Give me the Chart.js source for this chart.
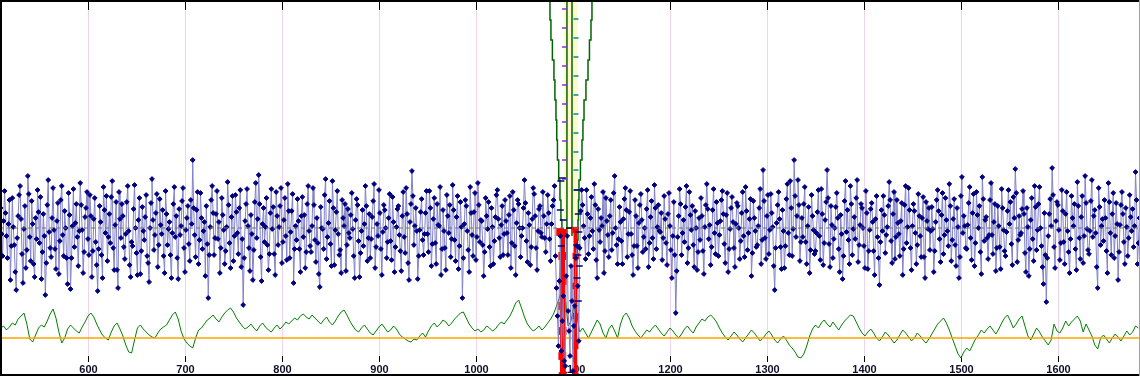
<!DOCTYPE html>
<html>
<head>
<meta charset="utf-8">
<title>Spectrum trace</title>
<script src="https://cdn.jsdelivr.net/npm/chart.js@4.4.1/dist/chart.umd.min.js"></script>
<style>
  html, body { margin: 0; padding: 0; background: #fff; }
  canvas { display: block; }
</style>
</head>
<body>
<canvas id="chart" width="1140" height="376"></canvas>
<script>
// AXIS RANGE (no y labels in the original, y is in "height above the bottom" units)
var X_MIN = 509.3;
var X_MAX = 1684.6;
var Y_MIN = 0;
var Y_MAX = 376;

var TICKS = [600, 700, 800, 900, 1000, 1100, 1200, 1300, 1400, 1500, 1600];

// blue trace, one sample per unit starting at 510
var BLUE_START = 510;
var BLUE_STEP = 1;
var blueValues = [
  168, 142, 120, 155, 185, 163, 140, 118, 152, 176, 96, 130, 178, 149, 131, 104, 86, 138, 160, 181, 190, 157, 122, 93, 147, 170, 108, 126, 200, 182, 139, 115, 175, 152, 112, 99, 158, 137, 186, 164,
  133, 179, 97, 124, 162, 140, 81, 113, 171, 196, 144, 128, 119, 158, 188, 146, 127, 107, 155, 173, 102, 135, 176, 190, 141, 120, 165, 148, 118, 92, 183, 161, 87, 118, 150, 187, 129, 153, 172, 139,
  110, 145, 193, 171, 146, 103, 124, 159, 168, 184, 137, 121, 181, 160, 99, 125, 157, 178, 134, 111, 85, 127, 170, 154, 121, 98, 189, 166, 143, 180, 115, 139, 162, 133, 179, 195, 128, 106, 151, 174,
  106, 88, 184, 157, 138, 172, 160, 129, 117, 142, 174, 190, 145, 111, 99, 134, 130, 167, 191, 148, 123, 101, 156, 178, 102, 125, 169, 145, 136, 159, 181, 120, 113, 94, 148, 173, 197, 156, 126, 141,
  163, 182, 109, 131, 177, 151, 142, 166, 120, 103, 185, 162, 131, 147, 154, 121, 98, 143, 172, 189, 139, 160, 118, 97, 167, 141, 150, 175, 188, 128, 104, 146, 158, 170, 132, 115, 176, 152, 216, 168,
  141, 119, 166, 184, 112, 136, 183, 158, 127, 145, 154, 100, 170, 132, 78, 121, 149, 176, 190, 163, 121, 138, 162, 185, 137, 154, 103, 128, 178, 161, 146, 112, 125, 149, 194, 171, 133, 108, 159, 180,
  115, 140, 181, 164, 143, 122, 168, 186, 109, 137, 71, 118, 155, 172, 187, 150, 128, 105, 161, 142, 96, 126, 174, 193, 138, 157, 201, 172, 119, 95, 152, 168, 134, 149, 178, 131, 106, 122, 163, 187,
  147, 169, 122, 101, 184, 160, 131, 149, 170, 188, 113, 134, 156, 178, 140, 116, 192, 165, 118, 144, 165, 182, 93, 127, 150, 136, 177, 155, 127, 104, 160, 179, 139, 161, 108, 124, 172, 190, 145, 130,
  124, 150, 188, 171, 136, 114, 158, 133, 102, 89, 169, 148, 147, 127, 181, 197, 117, 139, 153, 175, 132, 110, 195, 168, 111, 146, 164, 185, 142, 121, 126, 103, 176, 158, 150, 172, 105, 131, 167, 143,
  138, 161, 183, 147, 120, 98, 156, 177, 171, 135, 99, 123, 145, 166, 130, 152, 190, 170, 115, 138, 162, 118, 137, 159, 175, 192, 108, 129, 152, 140, 186, 163, 127, 101, 144, 171, 166, 148, 118, 134,
  158, 182, 135, 116, 179, 154, 104, 129, 149, 167, 170, 141, 125, 105, 160, 184, 139, 123, 188, 162, 113, 96, 154, 172, 205, 180, 131, 150, 168, 145, 97, 120, 146, 164, 177, 136, 121, 142, 163, 185,
  142, 124, 185, 168, 110, 132, 157, 178, 133, 112, 172, 151, 150, 189, 101, 127, 166, 145, 128, 106, 181, 160, 143, 171, 119, 137, 191, 166, 136, 115, 159, 180, 107, 130, 174, 149, 78, 118, 152, 176,
  170, 145, 126, 104, 189, 163, 141, 120, 164, 183, 116, 139, 193, 171, 134, 156, 155, 131, 100, 124, 178, 160, 147, 174, 129, 110, 168, 149, 112, 135, 159, 181, 186, 157, 138, 119, 151, 170, 121, 142,
  176, 155, 143, 121, 161, 180, 108, 133, 184, 166, 130, 101, 153, 176, 172, 148, 119, 140, 148, 168, 196, 173, 135, 114, 163, 151, 111, 129, 157, 188, 182, 160, 128, 106, 145, 167, 170, 143, 139, 184,
  160, 138, 124, 152, 181, 163, 137, 115, 152, 170, 176, 190, 120, 88, 60, 30, 95, 140, 25, 55, 80, 15, 10, 100, 140, 65, 45, 20, 110, 75, 5, 50, 70, 118, 130, 90, 35, 128, 165, 186,
  171, 150, 138, 117, 186, 162, 122, 140, 158, 179, 145, 127, 192, 171, 116, 98, 167, 146, 134, 158, 150, 184, 103, 125, 178, 155, 141, 119, 160, 176, 126, 143, 183, 200, 148, 131, 112, 137, 169, 154,
  135, 112, 157, 177, 188, 166, 119, 142, 164, 185, 142, 121, 101, 130, 176, 160, 130, 108, 153, 171, 182, 156, 124, 139, 148, 127, 167, 186, 109, 133, 159, 175, 138, 117, 191, 168, 127, 149, 171, 145,
  144, 163, 116, 138, 180, 157, 133, 111, 162, 183, 150, 126, 98, 140, 174, 121, 63, 105, 139, 160, 187, 172, 121, 143, 156, 134, 169, 190, 113, 128, 184, 161, 146, 170, 131, 109, 165, 148, 106, 124,
  158, 136, 178, 160, 125, 102, 149, 171, 192, 167, 137, 151, 111, 129, 166, 187, 143, 122, 174, 153, 120, 141, 155, 176, 185, 162, 132, 113, 161, 183, 104, 127, 147, 168, 179, 154, 128, 109, 152, 173,
  170, 148, 117, 135, 163, 184, 140, 119, 189, 165, 126, 143, 157, 177, 100, 123, 175, 158, 145, 129, 131, 150, 168, 187, 112, 136, 206, 175, 138, 117, 160, 181, 122, 146, 182, 163, 149, 110, 86, 128,
  153, 171, 184, 157, 129, 107, 166, 145, 108, 130, 177, 192, 143, 121, 195, 168, 120, 147, 216, 180, 139, 160, 196, 171, 115, 134, 158, 139, 172, 189, 134, 112, 150, 169, 103, 126, 181, 160, 146, 122,
  125, 143, 164, 186, 140, 116, 187, 162, 111, 133, 156, 174, 206, 178, 132, 109, 170, 151, 118, 137, 148, 169, 183, 158, 127, 104, 161, 142, 97, 120, 175, 195, 144, 166, 136, 112, 190, 172, 121, 147,
  159, 137, 178, 196, 114, 131, 151, 172, 168, 148, 130, 108, 185, 163, 107, 125, 146, 167, 173, 154, 125, 101, 157, 180, 139, 118, 91, 134, 166, 145, 180, 161, 123, 141, 149, 170, 194, 176, 135, 113,
  162, 184, 117, 139, 176, 153, 142, 120, 155, 173, 101, 127, 171, 190, 133, 149, 188, 166, 128, 106, 150, 172, 165, 143, 112, 131, 182, 160, 140, 119, 158, 179, 119, 98, 174, 155, 147, 168, 126, 145,
  169, 147, 104, 125, 154, 176, 186, 165, 137, 114, 161, 183, 122, 141, 178, 156, 145, 130, 192, 170, 115, 136, 157, 177, 131, 110, 168, 149, 98, 119, 180, 199, 143, 160, 150, 128, 127, 151, 173, 189,
  138, 116, 163, 182, 110, 133, 184, 161, 148, 170, 124, 102, 199, 177, 135, 156, 159, 138, 117, 141, 176, 193, 141, 122, 154, 172, 105, 128, 170, 150, 129, 107, 187, 168, 146, 125, 120, 144, 165, 186,
  152, 174, 132, 111, 179, 158, 207, 183, 114, 136, 160, 141, 143, 167, 185, 162, 123, 104, 168, 149, 100, 127, 156, 178, 137, 115, 190, 169, 126, 146, 172, 189, 148, 130, 109, 92, 163, 121, 74, 118,
  140, 162, 177, 150, 208, 181, 129, 108, 155, 174, 171, 146, 116, 133, 186, 165, 134, 112, 162, 184, 145, 124, 103, 137, 180, 158, 150, 172, 127, 106, 194, 170, 138, 117, 159, 180, 113, 140, 200, 173,
  147, 126, 122, 145, 175, 196, 139, 160, 166, 143, 109, 88, 188, 169, 131, 150, 157, 135, 176, 158, 125, 103, 193, 174, 143, 121, 162, 183, 118, 140, 173, 152, 96, 124, 151, 171, 184, 162, 134, 112,
  168, 149, 120, 138, 181, 159, 145, 167, 129, 150, 204, 176, 112, 133, 158
];

// green trace, one sample every 3 units starting at 510
var GREEN_START = 510;
var GREEN_STEP = 3;
var greenValues = [
  48, 50, 46, 49, 53, 51, 57, 60, 63, 52, 37, 34, 41, 48, 51, 49, 55, 62, 67, 58,
  44, 33, 38, 47, 51, 48, 45, 43, 49, 54, 60, 63, 59, 52, 46, 41, 38, 36, 44, 50,
  53, 47, 40, 31, 24, 23, 36, 48, 51, 47, 44, 41, 39, 38, 43, 47, 49, 51, 56, 61,
  64, 57, 45, 37, 33, 30, 28, 38, 46, 48, 52, 56, 58, 61, 57, 54, 59, 63, 66, 68,
  64, 58, 54, 50, 47, 49, 52, 48, 45, 50, 53, 49, 46, 44, 48, 51, 47, 50, 54, 52,
  55, 58, 56, 60, 62, 59, 57, 61, 58, 55, 52, 56, 59, 54, 51, 55, 60, 64, 66, 61,
  55, 50, 46, 44, 48, 51, 47, 43, 41, 45, 49, 52, 48, 44, 46, 50, 47, 42, 39, 37,
  35, 34, 37, 36, 40, 43, 39, 45, 50, 53, 49, 52, 56, 54, 50, 53, 57, 60, 63, 64,
  58, 52, 48, 45, 47, 44, 46, 50, 48, 45, 47, 51, 54, 52, 56, 60, 66, 73, 76, 68,
  59, 52, 48, 45, 47, 50, 46, 49, 53, 57, 62, 70, 78, 90, 80, 50, 55, 72, 60, 44,
  48, 43, 38, 44, 50, 56, 52, 43, 38, 47, 51, 45, 38, 52, 60, 63, 58, 50, 45, 41,
  38, 42, 46, 44, 48, 51, 47, 43, 40, 44, 48, 45, 41, 38, 42, 47, 50, 46, 43, 49,
  53, 57, 55, 59, 61, 58, 54, 48, 43, 39, 36, 40, 44, 41, 37, 34, 38, 42, 46, 43,
  39, 35, 38, 42, 45, 41, 36, 33, 37, 40, 36, 31, 28, 24, 19, 18, 22, 30, 40, 47,
  51, 48, 53, 56, 52, 49, 54, 50, 46, 51, 55, 58, 61, 60, 54, 48, 43, 40, 44, 47,
  43, 38, 35, 39, 44, 41, 37, 33, 36, 41, 46, 43, 39, 35, 38, 43, 40, 36, 33, 37,
  42, 47, 52, 55, 58, 53, 46, 38, 30, 22, 18, 24, 28, 25, 31, 37, 41, 46, 43, 47,
  50, 46, 42, 47, 53, 58, 61, 55, 48, 52, 57, 60, 50, 40, 36, 42, 48, 44, 39, 35,
  31, 36, 52, 45, 43, 48, 55, 50, 54, 57, 60, 55, 44, 52, 46, 40, 31, 27, 38, 41,
  37, 33, 38, 42, 39, 35, 40, 45, 41, 44, 50, 48
];

var ORANGE_LEVEL = 38;
var MEAN_LEVEL = 148;

// the narrow feature around 1090-1105
var bandX = [1090.7, 1105.2];
var bandBottom = 156;

var vLeftX = [1075.3, 1076.3, 1077.3, 1078.8, 1080.4, 1081.4, 1082.5, 1083.3, 1084.0, 1085.3, 1086.6, 1087.6, 1088.6, 1089.2, 1089.7];
var vLeftY = [376, 356, 336, 316, 296, 276, 256, 236, 216, 196, 176, 156, 136, 111, 86];
var vRightX = [1120.6, 1119.6, 1118.6, 1117.0, 1115.5, 1113.4, 1111.4, 1110.3, 1109.3, 1107.7, 1106.2, 1105.7, 1105.2, 1104.6, 1104.1];
var vRightY = [376, 356, 336, 316, 296, 276, 256, 236, 216, 196, 176, 156, 136, 116, 96];

var stemA = { x: 1093.8, top: 376, bottom: 116 };
var stemB = { x: 1099.0, top: 376, bottom: 140 };

var purpleX = 1091.3;
var purpleY = [367, 348, 329, 310, 291, 272, 254, 235, 216, 197];
var tealX = 1103.1;
var tealY = [357, 338, 319, 300, 281, 262, 243, 224, 206, 186];

var redLeftX = [1086.8, 1089.4, 1089.0, 1089.5, 1088.9, 1089.3, 1089.0, 1089.4];
var redLeftY = [144, 143, 120, 95, 70, 45, 20, 0];
var redRightX = [1102.5, 1102.8, 1102.3, 1102.7, 1102.4, 1102.6];
var redRightY = [146, 120, 90, 60, 30, 0];

var markX = [1089.0, 1087.5, 1087.0, 1090.0, 1104.5, 1105.5, 1106.0, 1104.0, 1105.0, 1106.5, 1104.2, 1088.0, 1105.5];
var markY = [198, 195, 166, 156, 186, 162, 144, 131, 121, 110, 98, 130, 75];

// COLOURS
var GRID_COLOR = '#efd3ef';
var LABEL_COLOR = '#10102c';

function pts(xs, ys) {
  return xs.map(function (x, i) { return { x: x, y: ys[i] }; });
}

function series(start, step, values) {
  return values.map(function (v, i) { return { x: start + step * i, y: v }; });
}

function flat(xs, y) {
  return xs.map(function (x) { return { x: x, y: y }; });
}

// FRAME: grid, ticks, labels and border drawn on the library's x scale
var frame = {
  id: 'frame',
  beforeDatasetsDraw: function (chart) {
    var ctx = chart.ctx;
    var x = chart.scales.x;
    ctx.save();
    ctx.lineWidth = 1;
    TICKS.forEach(function (t) {
      var px = Math.round(x.getPixelForValue(t)) + 0.5;
      ctx.strokeStyle = GRID_COLOR;
      ctx.beginPath();
      ctx.moveTo(px, 10);
      ctx.lineTo(px, 356);
      ctx.stroke();

      ctx.strokeStyle = '#000';
      ctx.beginPath();
      ctx.moveTo(px, 0);
      ctx.lineTo(px, 10);
      ctx.moveTo(px, 356);
      ctx.lineTo(px, 362);
      ctx.stroke();

      ctx.fillStyle = LABEL_COLOR;
      ctx.font = 'bold 11px "Liberation Sans", Arial, sans-serif';
      ctx.textAlign = 'center';
      ctx.textBaseline = 'alphabetic';
      ctx.fillText(String(t), px, 373);
    });
    ctx.restore();
  },
  afterDatasetsDraw: function (chart) {
    var ctx = chart.ctx;
    ctx.save();
    ctx.fillStyle = '#000';
    ctx.fillRect(0, 0, 1140, 2);
    ctx.fillRect(0, 0, 2, 376);
    ctx.fillRect(0, 374, 1140, 2);
    ctx.fillStyle = '#a0a0a0';
    ctx.fillRect(1139, 0, 1, 376);
    ctx.restore();
  }
};

var datasets = [
  {
    // black tick at the mean inside the feature
    data: flat([1093.0, 1099.0], MEAN_LEVEL),
    borderColor: '#000', borderWidth: 1.5, pointRadius: 0, order: 1
  },
  {
    // dashed mean line
    data: flat([X_MIN, X_MAX], MEAN_LEVEL),
    borderColor: '#707070', borderWidth: 1, borderDash: [4, 3], pointRadius: 0, order: 2
  },
  {
    data: pts(markX, markY), showLine: false,
    pointStyle: 'line', pointRadius: 3.5, borderColor: '#000080', borderWidth: 1.5, order: 3
  },
  {
    data: series(BLUE_START, BLUE_STEP, blueValues),
    borderColor: '#8282c8', borderWidth: 1,
    pointStyle: 'rectRot', pointRadius: 2.4, pointBorderWidth: 1,
    pointBackgroundColor: '#000080', pointBorderColor: '#000080', order: 4
  },
  {
    data: pts(redLeftX, redLeftY),
    borderColor: '#ff0000', borderWidth: 5,
    pointStyle: 'rect', pointRadius: 2, pointBackgroundColor: '#ff0000', pointBorderColor: '#ff0000', order: 5
  },
  {
    data: pts(redRightX, redRightY),
    borderColor: '#ff0000', borderWidth: 3.5,
    pointStyle: 'rect', pointRadius: 2, pointBackgroundColor: '#ff0000', pointBorderColor: '#ff0000', order: 5
  },
  {
    data: purpleY.map(function (y) { return { x: purpleX, y: y }; }), showLine: false,
    pointStyle: 'line', pointRadius: 2.5, borderColor: '#8a2be2', borderWidth: 1.5, order: 6
  },
  {
    data: tealY.map(function (y) { return { x: tealX, y: y }; }), showLine: false,
    pointStyle: 'line', pointRadius: 2.5, borderColor: '#008b8b', borderWidth: 1.5, order: 6
  },
  {
    data: pts(vLeftX, vLeftY), stepped: true,
    borderColor: '#006400', borderWidth: 1.5, pointRadius: 0, order: 7
  },
  {
    data: pts(vRightX, vRightY), stepped: true,
    borderColor: '#006400', borderWidth: 1.5, pointRadius: 0, order: 7
  },
  {
    data: [{ x: stemA.x, y: stemA.top }, { x: stemA.x, y: stemA.bottom }],
    borderColor: '#006400', borderWidth: 1.5, pointRadius: 0, order: 7
  },
  {
    data: [{ x: stemB.x, y: stemB.top }, { x: stemB.x, y: stemB.bottom }],
    borderColor: '#006400', borderWidth: 1.5, pointRadius: 0, order: 7
  },
  {
    data: flat([X_MIN, X_MAX], ORANGE_LEVEL),
    borderColor: '#ffa500', borderWidth: 1.5, pointRadius: 0, order: 8
  },
  {
    data: series(GREEN_START, GREEN_STEP, greenValues),
    borderColor: '#008000', borderWidth: 1, pointRadius: 0, order: 9
  },
  {
    // yellow band behind the feature
    data: flat(bandX, Y_MAX),
    borderWidth: 0, pointRadius: 0, fill: { value: bandBottom },
    backgroundColor: '#fffacd', order: 10
  }
];

datasets.forEach(function (d) {
  d.fill = d.fill || false;
  d.tension = 0;
});

new Chart(document.getElementById('chart'), {
  type: 'line',
  data: { datasets: datasets },
  options: {
    responsive: false,
    animation: false,
    devicePixelRatio: 1,
    layout: { padding: 0, autoPadding: false },
    plugins: {
      legend: { display: false },
      tooltip: { enabled: false }
    },
    scales: {
      x: { type: 'linear', min: X_MIN, max: X_MAX, display: false },
      y: { type: 'linear', min: Y_MIN, max: Y_MAX, display: false }
    }
  },
  plugins: [frame]
});
</script>
</body>
</html>
